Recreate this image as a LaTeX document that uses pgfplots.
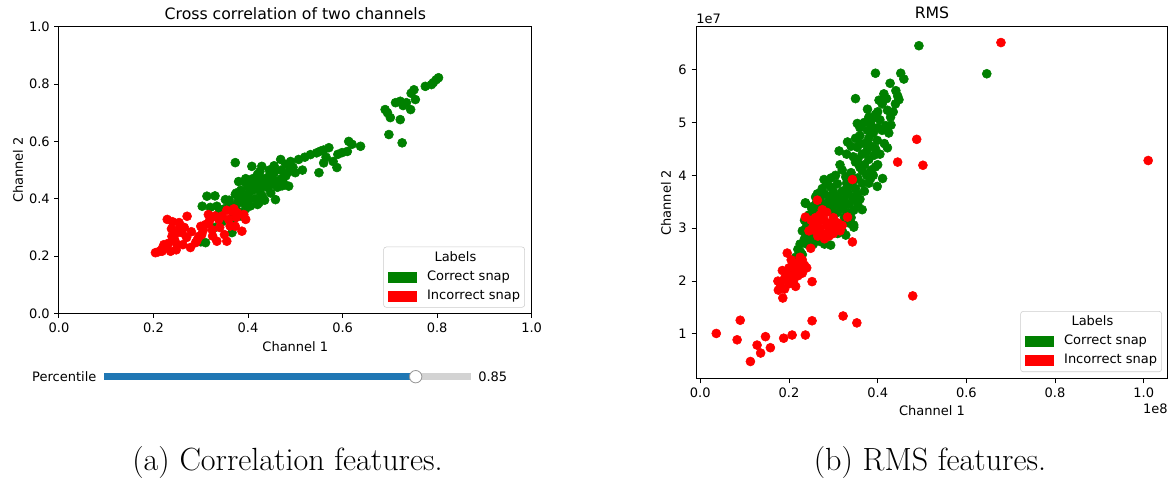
\documentclass[border=0pt]{standalone}
\usepackage{fontspec}
\usepackage{pgfplots}
\pgfplotsset{compat=1.18}
\newfontfamily\mpl{DejaVu Sans}
\definecolor{mplgreen}{HTML}{008000}
\definecolor{mplred}{HTML}{FF0000}
\definecolor{mplblue}{HTML}{1F77B4}
\definecolor{slgray}{HTML}{D3D3D3}
\newcommand{\tf}{\mpl\fontsize{9.36}{11.2}\selectfont}
\newcommand{\ttf}{\mpl\fontsize{11.3}{13.5}\selectfont}
\pgfplotsset{
  patchleg/.style={legend image code/.code={\fill[##1, sharp corners, fill opacity=1] (0pt,-3.6pt) rectangle (20pt,3.6pt);}},
  mplaxis/.style={
    scale only axis,
    axis line style={line width=0.72pt},
    every tick/.style={line width=0.72pt, black},
    tick align=outside,
    major tick length=3.24pt,
    xtick pos=bottom, ytick pos=left,
    /pgf/number format/assume math mode=true,
    tick label style={font=\tf, inner sep=0pt},
    xticklabel style={yshift=-3.24pt},
    yticklabel style={xshift=-3.24pt},
    legend style={font=\tf, draw=black!20, rounded corners=2pt, fill=white,
      fill opacity=0.8, text opacity=1,
      inner xsep=3.3pt, inner ysep=3.5pt,
      row sep=4.9pt,
      nodes={inner sep=0pt, text height=6.8pt, text depth=2.1pt},
      /tikz/every odd column/.append style={column sep=7.7pt},
      cells={anchor=west}},
  },
  gpts/.style={only marks, mark=*, mark size=3.24pt, mplgreen, mark options={draw=none, fill=mplgreen}},
  rpts/.style={only marks, mark=*, mark size=3.24pt, mplred, mark options={draw=none, fill=mplred}},
}
\begin{document}
\begin{tikzpicture}
\useasboundingbox (0pt,0pt) rectangle (844.56pt,344.88pt);
% ---------------- left panel ----------------
\begin{axis}[mplaxis,
  at={(42.48pt,119.16pt)}, anchor=south west,
  width=340.3pt, height=206.5pt,
  xmin=0, xmax=1, ymin=0, ymax=1,
  xtick={0,0.2,0.4,0.6,0.8,1.0}, ytick={0,0.2,0.4,0.6,0.8,1.0},
  xticklabel style={/pgf/number format/fixed, /pgf/number format/fixed zerofill, /pgf/number format/precision=1},
  yticklabel style={/pgf/number format/fixed, /pgf/number format/fixed zerofill, /pgf/number format/precision=1},
  legend style={at={(rel axis cs:1,0)}, anchor=south east, xshift=-4.8pt, yshift=4.2pt},
  clip=false,
]
\addlegendimage{empty legend}\addlegendentry{\hspace*{5.3pt}Labels}
\addlegendimage{patchleg, mplgreen}\addlegendentry{Correct snap}
\addlegendimage{patchleg, mplred}\addlegendentry{Incorrect snap}
\addplot[gpts, forget plot] coordinates {
(0.803,0.822)(0.798,0.815)(0.792,0.805)(0.788,0.798)(0.775,0.792)(0.751,0.780)(0.745,0.768)(0.754,0.746)(0.744,0.711)(0.722,0.740)(0.728,0.725)(0.722,0.676)(0.701,0.683)(0.690,0.711)(0.695,0.700)(0.712,0.735)(0.735,0.735)(0.698,0.624)(0.726,0.595)
(0.638,0.583)(0.613,0.600)(0.620,0.590)(0.599,0.561)(0.571,0.578)(0.560,0.570)(0.553,0.566)(0.545,0.560)(0.532,0.554)(0.550,0.491)(0.588,0.509)(0.580,0.530)(0.565,0.545)(0.520,0.545)(0.507,0.537)(0.500,0.491)(0.490,0.530)(0.480,0.520)(0.469,0.537)(0.486,0.444)(0.475,0.455)(0.458,0.397)(0.429,0.513)(0.408,0.513)(0.395,0.456)(0.373,0.415)(0.313,0.409)(0.303,0.374)(0.334,0.374)(0.352,0.397)(0.310,0.247)(0.366,0.282)(0.423,0.386)(0.416,0.444)(0.444,0.467)(0.373,0.526)
(0.495,0.510)(0.470,0.500)(0.455,0.490)(0.445,0.480)(0.435,0.470)(0.420,0.460)(0.405,0.455)(0.400,0.440)(0.410,0.430)(0.425,0.425)(0.440,0.440)(0.450,0.450)(0.460,0.460)(0.470,0.470)(0.480,0.480)(0.430,0.410)(0.415,0.400)(0.400,0.395)(0.390,0.405)(0.385,0.430)(0.380,0.460)(0.395,0.470)(0.420,0.485)(0.445,0.500)(0.455,0.515)(0.430,0.445)(0.440,0.455)(0.452,0.470)(0.462,0.440)(0.472,0.445)(0.448,0.420)(0.435,0.395)(0.420,0.380)(0.405,0.375)(0.395,0.365)(0.380,0.355)(0.370,0.345)(0.360,0.375)(0.350,0.365)(0.340,0.355)(0.390,0.385)(0.380,0.395)(0.400,0.415)(0.410,0.470)(0.425,0.495)(0.515,0.500)(0.560,0.525)(0.610,0.565)(0.590,0.555)(0.330,0.410)(0.320,0.370)(0.300,0.250)(0.330,0.300)(0.345,0.320)(0.370,0.330)(0.385,0.340)(0.360,0.395)(0.375,0.380)(0.487,0.495)(0.375,0.420)
};
\addplot[rpts, forget plot] coordinates {
(0.204,0.212)(0.210,0.215)(0.218,0.217)(0.226,0.235)(0.236,0.217)(0.229,0.328)(0.240,0.320)(0.254,0.317)(0.271,0.339)(0.239,0.269)(0.245,0.255)(0.260,0.282)(0.278,0.230)(0.296,0.269)(0.300,0.304)(0.317,0.317)(0.338,0.328)(0.359,0.328)(0.366,0.356)(0.391,0.345)(0.395,0.328)(0.387,0.287)(0.355,0.252)(0.334,0.252)(0.324,0.292)(0.373,0.304)(0.289,0.247)(0.250,0.240)(0.218,0.225)(0.232,0.245)(0.248,0.280)(0.265,0.300)(0.280,0.285)(0.305,0.290)(0.310,0.310)(0.320,0.330)(0.345,0.340)(0.355,0.360)(0.370,0.365)(0.340,0.300)(0.350,0.275)(0.362,0.305)(0.302,0.275)(0.292,0.255)(0.270,0.265)(0.255,0.300)(0.238,0.295)(0.262,0.240)(0.222,0.240)(0.248,0.222)(0.330,0.340)(0.316,0.345)(0.378,0.350)(0.375,0.335)(0.325,0.270)
};
\node[font=\ttf, anchor=base, inner sep=0pt] at ([yshift=5.5pt]rel axis cs:0.5,1) {Cross correlation of two channels};
\node[font=\tf, anchor=center, inner sep=0pt] at ([yshift=-24pt]rel axis cs:0.5,0) {Channel 1};
\node[font=\tf, anchor=center, inner sep=0pt, rotate=90] at ([xshift=-29.5pt]rel axis cs:0,0.5) {Channel 2};
\end{axis}
% ---------------- slider ----------------
\begin{axis}[
  at={(74.88pt,73.66pt)}, anchor=west,
  scale only axis, width=264pt, height=10pt,
  xmin=0, xmax=1, ymin=-1, ymax=1, hide axis, clip=false,
]
\addplot[slgray, line width=4.8pt, line cap=butt] coordinates {(0,0) (1,0)};
\addplot[mplblue, line width=4.8pt, line cap=butt] coordinates {(0,0) (0.85,0)};
\addplot[only marks, mark=*, mark size=4.46pt, mark options={fill=white, draw=black!40, line width=0.6pt}] coordinates {(0.85,0)};
\node[font=\tf, anchor=east, inner sep=0pt] at (axis cs:0,0) {Percentile\hspace*{5.3pt}};
\node[font=\tf, anchor=west, inner sep=0pt] at (axis cs:1,0) {\hspace*{5.3pt}0.85};
\end{axis}
% ---------------- right panel ----------------
\begin{axis}[mplaxis,
  at={(501.12pt,72pt)}, anchor=south west,
  width=339.8pt, height=253.7pt,
  xmin=-0.0097, xmax=1.0546, ymin=0.149, ymax=6.811,
  xtick={0,0.2,0.4,0.6,0.8,1.0}, ytick={1,2,3,4,5,6},
  xticklabel style={/pgf/number format/fixed, /pgf/number format/fixed zerofill, /pgf/number format/precision=1},
  scaled ticks=false,
  legend style={at={(rel axis cs:1,0)}, anchor=south east, xshift=-4.3pt, yshift=5pt},
  clip=false,
]
\addlegendimage{empty legend}\addlegendentry{\hspace*{5.3pt}Labels}
\addlegendimage{patchleg, mplgreen}\addlegendentry{Correct snap}
\addlegendimage{patchleg, mplred}\addlegendentry{Incorrect snap}
\addplot[gpts, forget plot] coordinates {
(0.493,6.45)(0.395,5.93)(0.452,5.93)(0.459,5.82)(0.646,5.92)(0.428,5.74)(0.441,5.60)(0.414,5.54)(0.448,5.43)(0.350,5.45)(0.403,5.42)(0.377,5.25)(0.422,5.23)(0.429,5.10)(0.388,5.07)(0.418,4.94)(0.354,4.98)(0.377,4.85)(0.332,4.63)(0.313,4.46)(0.354,4.53)(0.399,4.66)(0.422,4.52)(0.392,4.38)(0.350,4.25)(0.395,4.16)(0.365,4.09)(0.411,3.94)(0.399,3.79)(0.384,3.94)(0.328,3.97)(0.279,3.92)(0.309,3.84)(0.354,3.65)(0.237,3.48)(0.260,3.59)(0.346,3.34)(0.346,3.06)(0.294,3.78)(0.237,3.47)(0.346,3.02)(0.328,2.87)(0.294,2.68)(0.226,2.55)(0.245,2.90)(0.264,3.65)
(0.410,5.35)(0.420,5.45)(0.400,5.20)(0.395,5.15)(0.405,5.05)(0.385,4.95)(0.390,4.80)(0.400,4.90)(0.410,4.85)(0.380,4.70)(0.370,4.60)(0.385,4.55)(0.395,4.50)(0.375,4.45)(0.365,4.40)(0.380,4.30)(0.370,4.20)(0.360,4.15)(0.385,4.10)(0.375,4.00)(0.355,3.95)(0.345,3.90)(0.365,3.85)(0.340,3.80)(0.330,3.75)(0.350,3.75)(0.320,3.70)(0.335,3.65)(0.310,3.60)(0.325,3.55)(0.300,3.55)(0.315,3.50)(0.290,3.50)(0.305,3.45)(0.280,3.45)(0.295,3.40)(0.270,3.40)(0.285,3.35)(0.320,3.40)(0.335,3.45)(0.310,3.30)(0.300,3.30)(0.275,3.30)(0.265,3.35)(0.255,3.30)(0.250,3.40)(0.245,3.25)(0.235,3.15)(0.240,3.05)(0.230,2.95)(0.235,2.80)(0.240,2.70)(0.225,2.70)(0.220,2.60)(0.215,2.45)(0.210,2.35)(0.205,2.25)(0.230,2.50)(0.250,2.80)(0.255,2.70)(0.260,2.85)(0.270,2.75)(0.280,2.70)(0.310,2.90)(0.320,2.95)(0.335,3.10)(0.340,3.20)(0.330,3.30)(0.325,3.20)(0.330,3.85)(0.340,4.05)(0.355,4.30)(0.360,4.60)(0.360,4.75)(0.345,4.35)(0.320,4.10)(0.300,3.70)(0.290,3.60)(0.280,3.65)(0.270,3.55)(0.260,3.45)(0.360,3.55)(0.370,3.70)(0.380,3.85)(0.390,4.00)(0.400,4.20)(0.405,4.40)(0.415,4.60)(0.425,4.80)(0.430,4.95)(0.435,5.20)(0.440,5.35)(0.445,5.50)(0.380,5.10)(0.370,5.00)(0.360,4.90)(0.350,4.70)(0.340,4.55)(0.330,4.40)(0.315,4.20)(0.305,4.00)(0.295,3.95)(0.285,3.85)(0.275,3.75)(0.345,3.55)(0.355,3.45)(0.365,3.35)
};
\addplot[rpts, forget plot] coordinates {
(0.678,6.51)(1.010,4.28)(0.488,4.68)(0.445,4.25)(0.502,4.19)(0.479,1.72)(0.090,1.26)(0.113,0.48)(0.128,0.79)(0.136,0.64)(0.147,0.95)(0.158,0.74)(0.188,0.92)(0.207,0.98)(0.237,0.98)(0.252,1.25)(0.322,1.34)(0.353,1.21)(0.083,0.89)(0.036,1.01)(0.343,3.92)(0.237,3.21)(0.264,3.53)(0.332,3.21)(0.343,2.74)(0.249,2.62)(0.196,2.53)(0.176,1.83)(0.186,1.68)(0.252,1.99)
(0.255,3.05)(0.260,2.95)(0.265,3.10)(0.270,3.00)(0.275,2.90)(0.280,3.15)(0.285,3.05)(0.290,2.95)(0.295,3.10)(0.300,3.20)(0.305,3.00)(0.310,3.10)(0.315,2.95)(0.270,3.25)(0.260,3.20)(0.250,3.15)(0.245,2.95)(0.290,2.85)(0.300,2.90)(0.280,2.80)(0.265,2.85)(0.285,3.30)(0.300,3.05)(0.320,3.05)(0.275,3.35)
(0.180,1.95)(0.190,2.05)(0.195,2.15)(0.200,2.25)(0.205,2.10)(0.210,2.30)(0.215,2.20)(0.220,2.35)(0.225,2.25)(0.230,2.40)(0.235,2.30)(0.190,1.85)(0.200,1.95)(0.210,2.00)(0.220,2.10)(0.185,2.20)(0.175,2.00)(0.230,2.15)(0.240,2.25)(0.215,1.90)(0.225,2.45)(0.205,2.40)
};
\node[font=\ttf, anchor=base, inner sep=0pt] at ([yshift=5.5pt]rel axis cs:0.5,1) {RMS};
\node[font=\tf, anchor=center, inner sep=0pt] at ([yshift=-23pt]rel axis cs:0.5,0) {Channel 1};
\node[font=\tf, anchor=center, inner sep=0pt, rotate=90] at ([xshift=-21.6pt]rel axis cs:0,0.5) {Channel 2};
\node[font=\tf, anchor=base west, inner sep=0pt] at ([yshift=2.4pt]rel axis cs:0,1) {1e7};
\node[font=\tf, anchor=base east, inner sep=0pt] at ([yshift=-25.2pt]rel axis cs:1,0) {1e8};
\end{axis}
% ---------------- captions ----------------
\node[anchor=base, inner sep=0pt, font=\fontsize{23.1}{27}\selectfont] at (207pt,6.48pt) {(a) Correlation features.};
\node[anchor=base, inner sep=0pt, font=\fontsize{23.1}{27}\selectfont] at (669.6pt,6.48pt) {(b) RMS features.};
\end{tikzpicture}
\end{document}
